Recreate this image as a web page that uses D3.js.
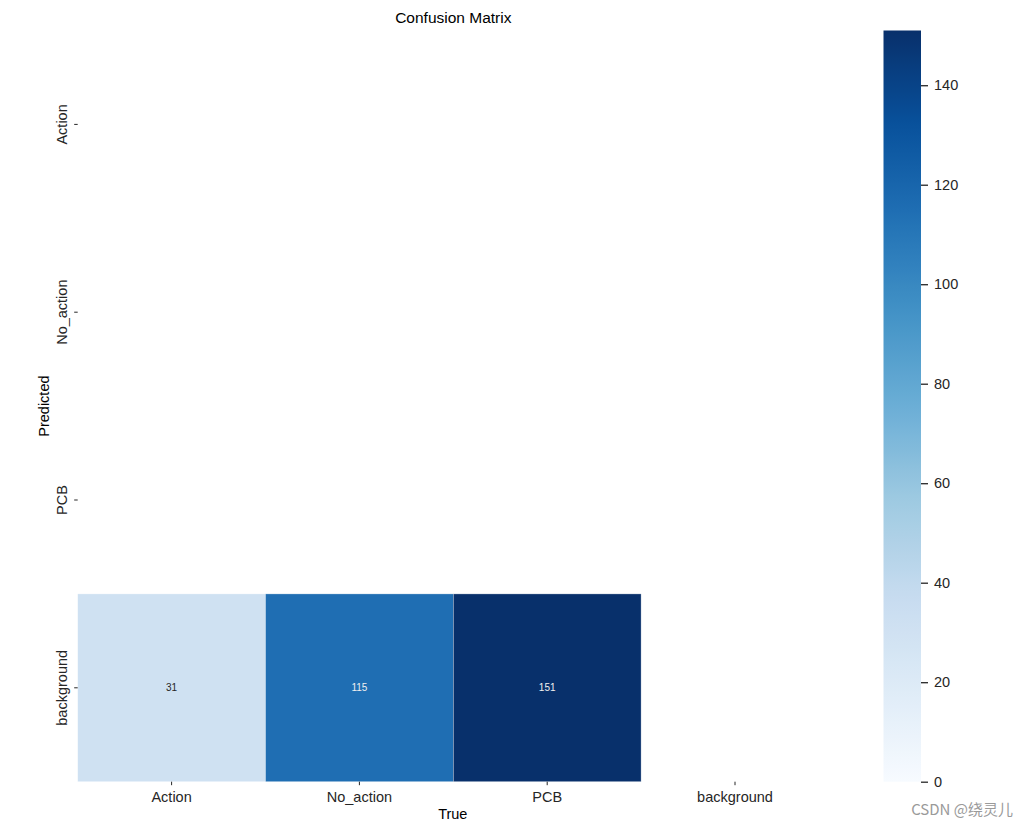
<!DOCTYPE html>
<html>
<head>
<meta charset="utf-8">
<script src="https://cdn.jsdelivr.net/npm/d3@7"></script>
<style>
body{margin:0;background:#fff;}
text{font-family:"Liberation Sans",Arial,sans-serif;}
</style>
</head>
<body>
<script>
// labels for both axes
var classNames = ["Action", "No_action", "PCB", "background"];
// rows = predicted, columns = true
var matrixRows = [
  [0, 0, 0, 0],
  [0, 0, 0, 0],
  [0, 0, 0, 0],
  [31, 115, 151, 0]
];
var cbarTicks = [0, 20, 40, 60, 80, 100, 120, 140];
var bluesColors = ["#f7fbff","#deebf7","#c6dbef","#9ecae1","#6baed6","#4292c6","#2171b5","#08519c","#08306b"];

var width = 1028, height = 828;
var gridLeft = 77.7, gridTop = 30.5, cell = 187.8;
var gridW = cell*4, gridH = cell*4;

var svg = d3.select("body").append("svg")
  .attr("width", width)
  .attr("height", height);

var vmax = d3.max(matrixRows, function(r){ return d3.max(r); });
var color = d3.scaleLinear()
  .domain(bluesColors.map(function(c, i){ return vmax*i/(bluesColors.length-1); }))
  .range(bluesColors);

var x = d3.scaleBand().domain(classNames).range([gridLeft, gridLeft+gridW]);
var y = d3.scaleBand().domain(classNames).range([gridTop, gridTop+gridH]);

// flatten matrix into cells
var cells = [];
matrixRows.forEach(function(row, i){
  row.forEach(function(v, j){
    cells.push({pred: classNames[i], tru: classNames[j], v: v});
  });
});
var shown = cells.filter(function(d){ return d.v > 0; }); // zeros are masked

svg.selectAll("rect.cell").data(shown).enter().append("rect")
  .attr("class", "cell")
  .attr("x", function(d){ return x(d.tru); })
  .attr("y", function(d){ return y(d.pred); })
  .attr("width", x.bandwidth())
  .attr("height", y.bandwidth())
  .attr("fill", function(d){ return color(d.v); })
  .attr("stroke", "#ffffff")
  .attr("stroke-opacity", 0.5)
  .attr("stroke-width", 0.6);

svg.selectAll("text.annot").data(shown).enter().append("text")
  .attr("class", "annot")
  .attr("x", function(d){ return x(d.tru) + x.bandwidth()/2; })
  .attr("y", function(d){ return y(d.pred) + y.bandwidth()/2; })
  .attr("dy", "0.35em")
  .attr("text-anchor", "middle")
  .attr("font-size", "10px")
  .attr("fill", function(d){
    var c = d3.rgb(color(d.v));
    var lum = 0.299*c.r + 0.587*c.g + 0.114*c.b;
    return lum > 140 ? "#262626" : "#f0f0f0";
  })
  .text(function(d){ return d.v; });

// x axis
var xAxis = svg.append("g")
  .attr("transform", "translate(0," + (gridTop+gridH) + ")")
  .call(d3.axisBottom(x).tickSize(3.5).tickPadding(6.5));
xAxis.select(".domain").remove();
xAxis.selectAll("text").attr("font-size", "14.5px").attr("fill", "#262626")
  .style("font-family", "'Liberation Sans',Arial,sans-serif");
xAxis.selectAll("line").attr("stroke", "#262626");

// y axis
var yAxis = svg.append("g")
  .attr("transform", "translate(" + gridLeft + ",0)")
  .call(d3.axisLeft(y).tickSize(3.5).tickPadding(0));
yAxis.select(".domain").remove();
yAxis.selectAll("line").attr("stroke", "#262626");
yAxis.selectAll("text")
  .attr("font-size", "14.5px").attr("fill", "#262626")
  .style("font-family", "'Liberation Sans',Arial,sans-serif")
  .attr("x", null).attr("dy", null)
  .attr("text-anchor", "middle")
  .attr("transform", "translate(-11,0) rotate(-90)");

// titles
svg.append("text")
  .attr("x", gridLeft + gridW/2).attr("y", 23)
  .attr("text-anchor", "middle").attr("font-size", "15.5px").attr("fill", "#000")
  .text("Confusion Matrix");
svg.append("text")
  .attr("x", gridLeft + gridW/2 - 0.5).attr("y", 819)
  .attr("text-anchor", "middle").attr("font-size", "14.5px").attr("fill", "#000")
  .text("True");
svg.append("text")
  .attr("transform", "translate(49," + (gridTop + gridH/2) + ") rotate(-90)")
  .attr("text-anchor", "middle").attr("font-size", "14.5px").attr("fill", "#000")
  .text("Predicted");

// colorbar
var cbX = 883.5, cbW = 37.5;
var cbScale = d3.scaleLinear().domain([0, vmax]).range([gridTop+gridH, gridTop]);
var grad = svg.append("defs").append("linearGradient")
  .attr("id", "cbgrad").attr("x1", 0).attr("y1", 1).attr("x2", 0).attr("y2", 0);
grad.selectAll("stop").data(d3.range(0, 1.0001, 0.02)).enter().append("stop")
  .attr("offset", function(t){ return t; })
  .attr("stop-color", function(t){ return color(t*vmax); });
svg.append("rect")
  .attr("x", cbX).attr("y", gridTop)
  .attr("width", cbW).attr("height", gridH)
  .attr("fill", "url(#cbgrad)");
var cbAxis = svg.append("g")
  .attr("transform", "translate(" + (cbX+cbW) + ",0)")
  .call(d3.axisRight(cbScale).tickValues(cbarTicks).tickSize(7).tickPadding(6));
cbAxis.select(".domain").remove();
cbAxis.selectAll("line").attr("stroke", "#262626").attr("stroke-width", 1.3);
cbAxis.selectAll("text").attr("font-size", "14.5px").attr("fill", "#262626")
  .style("font-family", "'Liberation Sans',Arial,sans-serif");

// watermark
svg.append("text")
  .attr("x", 1013).attr("y", 815)
  .attr("text-anchor", "end").attr("font-size", "15px").attr("fill", "#9a9a9a")
  .style("font-family", "'Noto Sans CJK SC','Liberation Sans',sans-serif")
  .text("CSDN @绕灵儿");
</script>
</body>
</html>
